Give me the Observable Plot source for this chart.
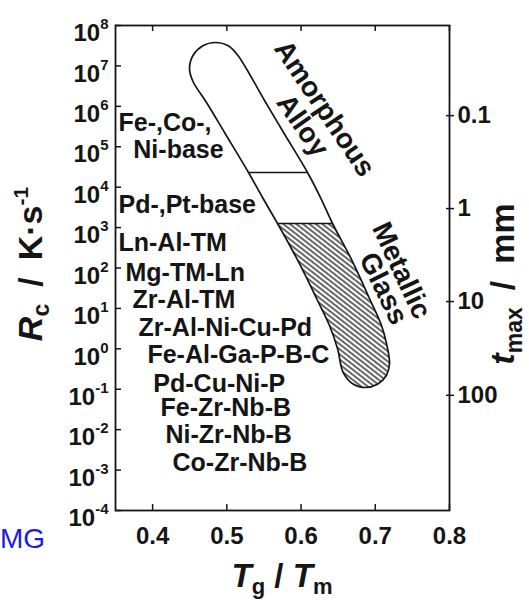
<!DOCTYPE html>
<html><head><meta charset="utf-8">
<script src="https://cdn.jsdelivr.net/npm/d3@7"></script>
<script src="https://cdn.jsdelivr.net/npm/@observablehq/plot@0.6"></script>
<style>
html,body{margin:0;padding:0;background:#fff;}
#chart{position:relative;width:529px;height:606px;overflow:hidden;}
</style></head><body><div id="chart"></div>
<script>
// ---- data ----
const xTicks = [0.4, 0.5, 0.6, 0.7, 0.8];
const rcTickExps = [8, 7, 6, 5, 4, 3, 2, 1, 0, -1, -2, -3, -4];
const tmaxTickLabels = ["0.1", "1", "10", "100"];
const tmaxTickRcExps = [5.77, 3.47, 1.17, -1.15];

// perimeter of the glass-forming band (clockwise from the top): Tg/Tm and log10(Rc)
const bandX   = [0.4847, 0.5023, 0.5150, 0.5508, 0.5764, 0.6087, 0.6262, 0.6424, 0.6666, 0.6922, 0.7084, 0.7151, 0.7192, 0.7149, 0.7030, 0.6868, 0.6707, 0.6568, 0.6491, 0.6383, 0.6222, 0.6060, 0.5885, 0.5683, 0.5481, 0.5292, 0.4969, 0.4726, 0.4544, 0.4497, 0.4544, 0.4672];
const bandExp = [7.579, 7.493, 7.258, 6.144, 5.353, 4.363, 3.744, 3.101, 2.260, 1.245, 0.577, 0.132, -0.363, -0.660, -0.877, -0.957, -0.877, -0.586, 0.008, 0.577, 1.196, 1.814, 2.433, 3.101, 3.744, 4.363, 5.353, 6.095, 6.614, 6.936, 7.258, 7.493];
// horizontal dividers inside the band
const dividerExp   = [4.363, 3.101];
const dividerLeft  = [0.5292, 0.5683];
const dividerRight = [0.6087, 0.6424];
const hatchTopExp = 3.101; // below this the band is hatched (metallic glass)

const alloyNames = ["Fe-,Co-,", "Ni-base", "Pd-,Pt-base", "Ln-Al-TM", "Mg-TM-Ln", "Zr-Al-TM", "Zr-Al-Ni-Cu-Pd", "Fe-Al-Ga-P-B-C", "Pd-Cu-Ni-P", "Fe-Zr-Nb-B", "Ni-Zr-Nb-B", "Co-Zr-Nb-B"];
const alloyX = [0.354, 0.374, 0.354, 0.354, 0.3635, 0.373, 0.381, 0.393, 0.401, 0.4106, 0.4174, 0.4268];
const alloyRcExps = [5.40, 4.72, 3.35, 2.41, 1.67, 1.00, 0.31, -0.36, -1.08, -1.67, -2.34, -3.03];

const regionNames = ["Amorphous", "Alloy", "Metallic", "Glass"];
const regionX = [0.6316, 0.602, 0.7353, 0.7111];
const regionRcExps = [5.946, 5.526, 1.938, 1.493];
const regionAngle = [56, 55, 65, 64];

// ---- build tables ----
const band = bandX.map((x, i) => ({x, e: bandExp[i], rc: 10 ** bandExp[i]}));
const iTop = band.findIndex(d => d.e === hatchTopExp);
const iEnd = band.findLastIndex(d => d.e === hatchTopExp);
const hatch = band.slice(iTop, iEnd + 1);
const dividers = dividerExp.map((e, i) => ({rc: 10 ** e, l: dividerLeft[i], r: dividerRight[i]}));
const alloys = alloyNames.map((t, i) => ({t, x: alloyX[i], y: 10 ** alloyRcExps[i]}));
const regions = regionNames.map((t, i) => ({t, x: regionX[i], y: 10 ** regionRcExps[i], a: regionAngle[i]}));
const rcTicks = rcTickExps.map(e => 10 ** e);
const tmaxRc = tmaxTickRcExps.map(e => 10 ** e);
const tmaxLabel = new Map(tmaxRc.map((v, i) => [v, tmaxTickLabels[i]]));

const ink = "#151515";
const FONT = "'Liberation Sans', Arial, Helvetica, sans-serif";

const svg = Plot.plot({
  width: 529, height: 606,
  marginTop: 25, marginRight: 80, marginBottom: 96, marginLeft: 115,
  x: {domain: [0.35, 0.8]},
  y: {type: "log", domain: [1e-4, 1e8]},
  style: {fontFamily: FONT, fontWeight: "bold", fontSize: "24px", color: ink, background: "transparent"},
  marks: [
    Plot.line(band, {x: "x", y: "rc", fill: "white", stroke: "none", curve: "catmull-rom-closed"}),
    Plot.line(hatch, {x: "x", y: "rc", fill: "url(#hatch)", stroke: "none", curve: "catmull-rom"}),
    Plot.line(band, {x: "x", y: "rc", fill: "none", stroke: ink, strokeWidth: 1.7, curve: "catmull-rom-closed"}),
    Plot.link(dividers, {x1: "l", x2: "r", y1: "rc", y2: "rc", stroke: ink, strokeWidth: 1.7}),
    Plot.frame({stroke: ink, strokeWidth: 1.8}),
    Plot.ruleX(xTicks, {stroke: ink, strokeWidth: 1.5, insetTop: 479}),
    Plot.ruleX(xTicks, {stroke: ink, strokeWidth: 1.5, insetBottom: 479}),
    Plot.ruleY(rcTicks, {stroke: ink, strokeWidth: 1.5, insetRight: 328}),
    Plot.ruleY(tmaxRc, {stroke: ink, strokeWidth: 1.5, insetLeft: 331, insetRight: -5}),
    Plot.axisX(xTicks, {anchor: "bottom", tickSize: 0, tickPadding: 16, fontSize: 24, fontWeight: "bold", label: null, tickFormat: d => d.toFixed(1)}),
    Plot.axisY(rcTicks, {anchor: "left", tickSize: 0, tickPadding: 7, fontSize: 24, fontWeight: "bold", dy: 8, label: null, tickFormat: d => "10^" + Math.round(Math.log10(d))}),
    Plot.axisY(tmaxRc, {anchor: "right", tickSize: 0, tickPadding: 8, fontSize: 24, fontWeight: "bold", label: null, tickFormat: d => tmaxLabel.get(d)}),
    Plot.text(alloys, {x: "x", y: "y", text: "t", textAnchor: "start", lineAnchor: "bottom", fontSize: 25, fontWeight: "bold", fill: ink}),
    Plot.text(regions, {x: "x", y: "y", text: "t", rotate: "a", fontSize: 28, fontWeight: "bold", fill: ink})
  ]
});

const s = d3.select(svg);
// hatch pattern
const defs = s.insert("defs", ":first-child");
const pat = defs.append("pattern").attr("id", "hatch").attr("patternUnits", "userSpaceOnUse")
  .attr("width", 10).attr("height", 4).attr("patternTransform", "rotate(38)");
pat.append("rect").attr("width", 10).attr("height", 4).attr("fill", "white");
pat.append("line").attr("x1", 0).attr("y1", 2).attr("x2", 10).attr("y2", 2).attr("stroke", ink).attr("stroke-width", 1.3);

// superscript exponents on the Rc axis
s.selectAll('g[aria-label="y-axis tick label"] text').each(function() {
  const t = this.textContent;
  if (!t.startsWith("10^")) return;
  const e = t.slice(3);
  const el = d3.select(this);
  el.text(null);
  el.append("tspan").text("10");
  el.append("tspan").attr("dy", -12).attr("font-size", 15).text(e);
});

// axis titles
function title(x, y, rot, size, parts) {
  const t = s.append("text").attr("transform", `translate(${x},${y}) rotate(${rot})`)
    .attr("text-anchor", "middle").attr("font-size", size).attr("font-weight", "bold")
    .attr("font-family", FONT).attr("fill", ink);
  let shift = 0;
  for (const p of parts) {
    const sp = t.append("tspan").text(p.text);
    const target = p.shift || 0;
    if (target !== shift) { sp.attr("dy", target - shift); shift = target; }
    if (p.italic) sp.attr("font-style", "italic");
    if (p.size) sp.attr("font-size", p.size);
  }
  return t;
}
title(42, 264, -90, 34, [
  {text: "R", italic: true},
  {text: "c", size: 23, shift: 7},
  {text: "\u2002/\u2002K\u00b7s", shift: 0},
  {text: "-1", size: 21, shift: -14}
]);
title(514, 284, -90, 34, [
  {text: "t", italic: true},
  {text: "max", size: 23, shift: 8},
  {text: "\u2002/\u2002mm", shift: 0}
]);
title(282, 587, 0, 33, [
  {text: "T", italic: true},
  {text: "g", size: 22, shift: 7},
  {text: " / ", shift: 0},
  {text: "T", italic: true},
  {text: "m", size: 22, shift: 7}
]);
// caption fragment at the left edge
s.append("text").attr("x", 0).attr("y", 548).attr("text-anchor", "start")
  .attr("font-family", FONT).attr("font-size", 28).attr("font-weight", "normal")
  .attr("fill", "#1a1aee").text("MG");

document.getElementById("chart").appendChild(svg);
</script>
</body></html>
